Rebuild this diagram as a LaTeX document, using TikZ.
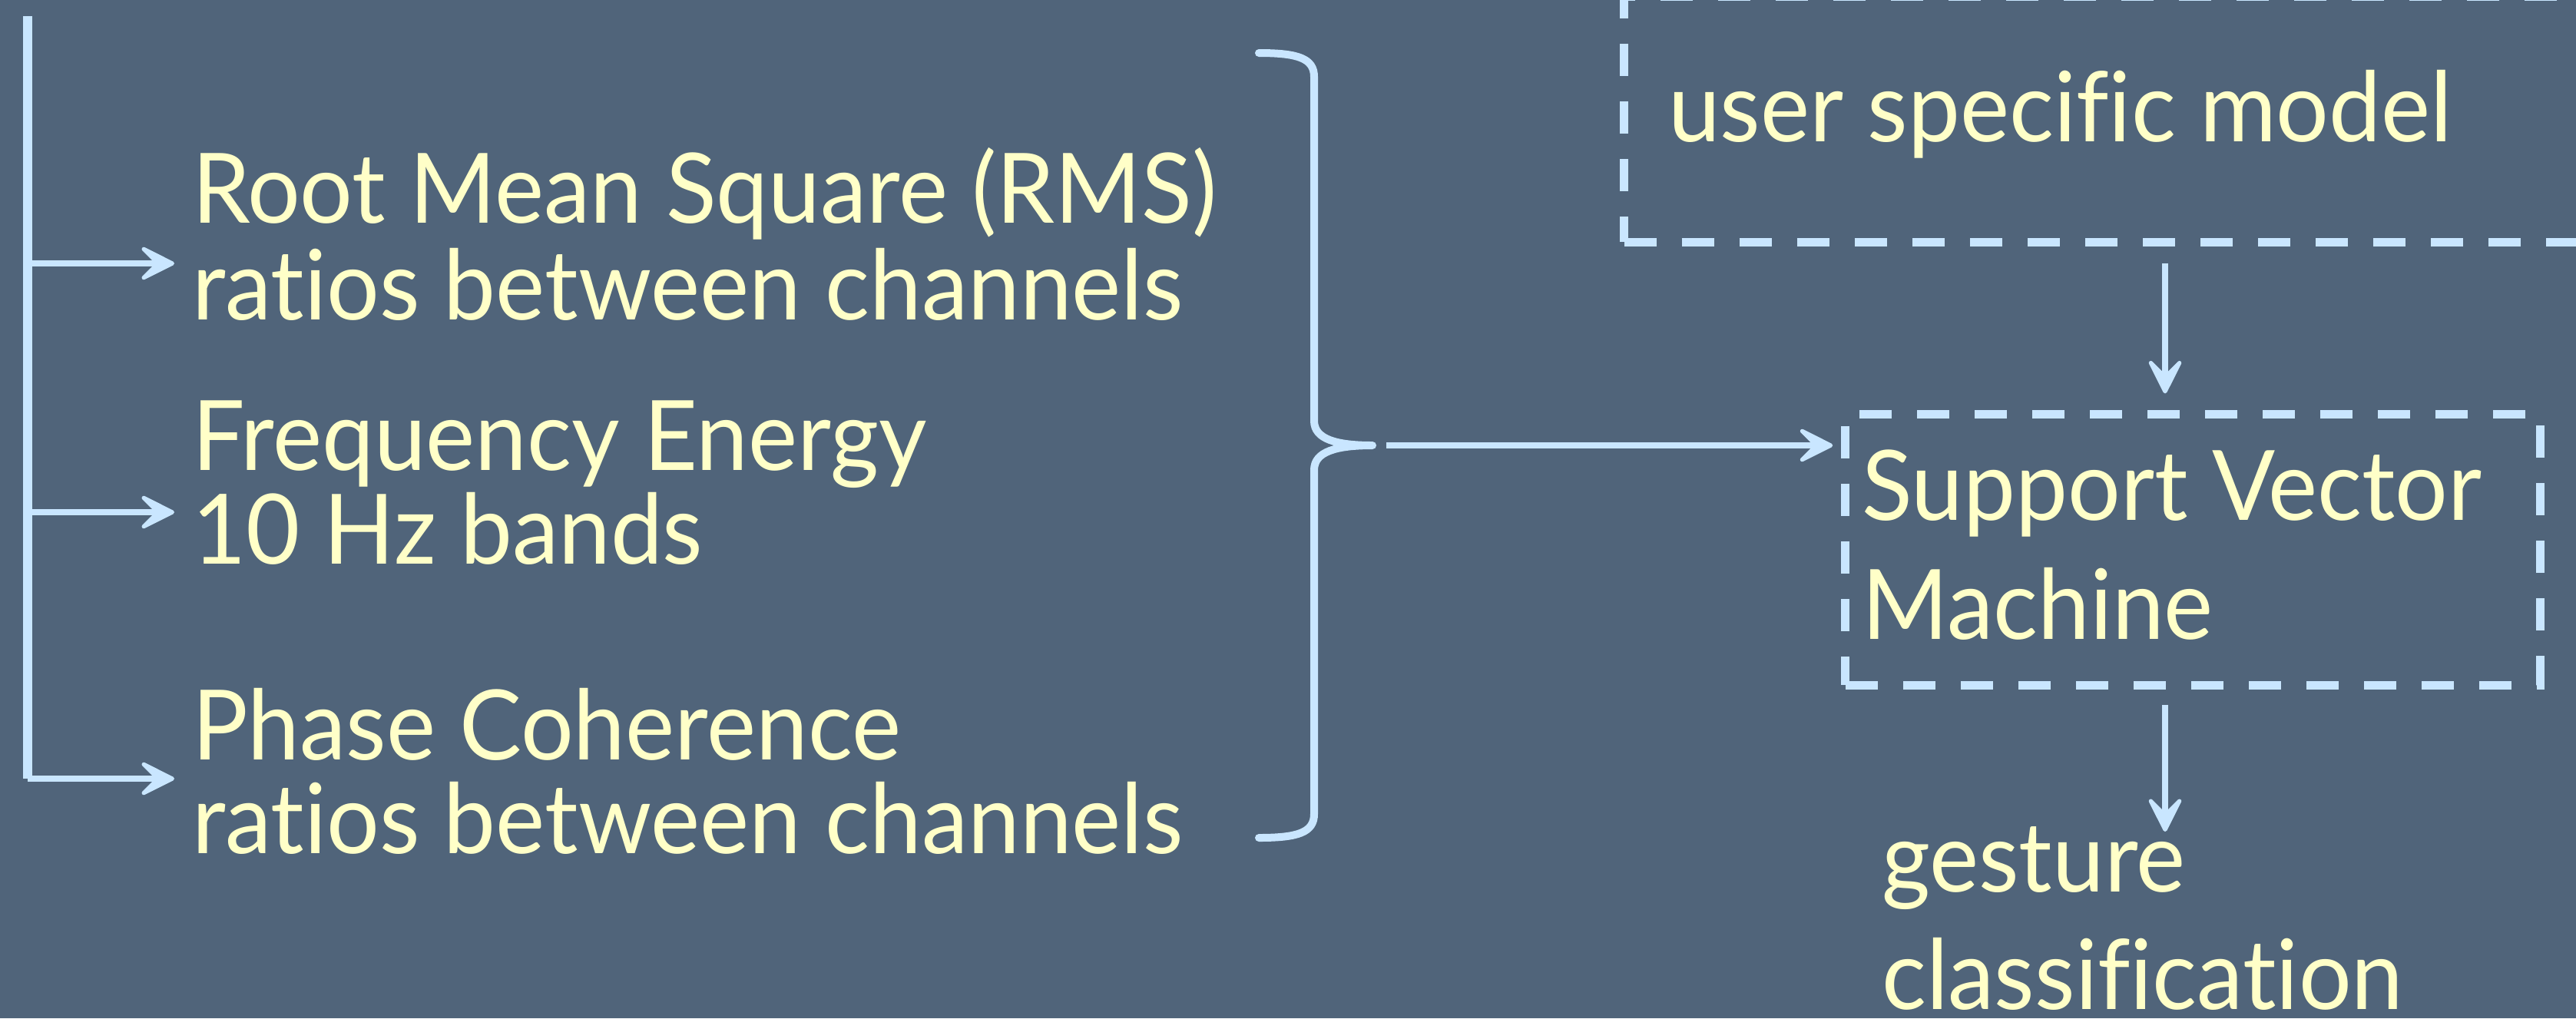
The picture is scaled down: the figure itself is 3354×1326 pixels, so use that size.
\documentclass[tikz,border=0pt]{standalone}
\usepackage{fontspec}
\setmainfont{Lato}[Ligatures=NoCommon]
\usepackage{graphicx}
\usetikzlibrary{arrows.meta}
\definecolor{bgc}{RGB}{80,100,122}
\definecolor{txtc}{RGB}{255,255,200}
\definecolor{lnc}{RGB}{201,230,255}
\newsavebox\measbox
\newdimen\measwd
\newcommand\gsfont{\fontsize{36}{36}\selectfont}
\newcommand\gtwo[3]{\vtop{\baselineskip=#1\relax\hbox{#2}\hbox{#3}}}
\newcommand\gtext[1]{\scalebox{\sx}[1]{\gsfont #1}}
\tikzset{
  txt/.style={text=txtc, anchor=base west, inner sep=0pt, outer sep=0pt},
  bus/.style={draw=lnc, line width=0.12cm},
  conn/.style={draw=lnc, line width=0.085cm,
    -{Stealth[length=16pt,width=16pt,inset=8pt,line width=1.5pt,round]}},
  bracestyle/.style={draw=lnc, line width=0.10cm, line cap=round, line join=round},
  dbox/.style={draw=lnc, line width=0.11cm, dash pattern=on 0.42cm off 0.33cm, inner sep=0pt, outer sep=0pt}
}
\begin{document}
\sbox\measbox{\gsfont ratios between channels}%
\global\measwd=\wd\measbox
\pgfmathsetmacro\sx{12.9cm/\measwd}%
\global\let\sx\sx
\begin{tikzpicture}[x=0.01cm,y=-0.01cm]
\fill[bgc] (0,0) rectangle (3354,1326);
\useasboundingbox (0,0) rectangle (3354,1326);
\clip (0,0) rectangle (3354,1326);

% left bus and feature arrows
\coordinate (bt) at (36,21);
\coordinate (bb) at (36,1014);
\draw[bus] (bt) -- (bb);
\node[txt] (rms) at (250,290) {\gtext{\gtwo{1.26cm}{Root Mean Square (RMS)}{ratios between channels}}};
\node[txt] (freq) at (250,612) {\gtext{\gtwo{1.22cm}{Frequency Energy}{10 Hz bands}}};
\node[txt] (phase) at (250,989) {\gtext{\gtwo{1.22cm}{Phase Coherence}{ratios between channels}}};
\coordinate (a1) at (227,343);
\coordinate (a2) at (227,667);
\coordinate (a3) at (227,1014);
\draw[conn] (bt |- a1) -- (a1);
\draw[conn] (bt |- a2) -- (a2);
\draw[conn] (bb) -- (a3);

% brace
\coordinate (btip) at (1787,580);
\draw[bracestyle] (1639,69) .. controls (1690,69) and (1711,76) .. (1711,100)
  -- (1711,548) .. controls (1711,572) and (1740,580) .. (btip)
  .. controls (1740,580) and (1711,588) .. (1711,612)
  -- (1711,1060) .. controls (1711,1084) and (1690,1091) .. (1639,1091);

% boxes
\node[dbox, minimum width=13.85cm, minimum height=3.19cm] (umodel) at (2807.5,155.5) {};
\node[txt] (umtext) at (2172,184) {\gtext{user specific model}};
\node[dbox, minimum width=9.04cm, minimum height=3.52cm] (svm) at (2855,716) {};
\node[txt] (svmtext) at (2424,677) {\gtext{\gtwo{1.55cm}{Support Vector}{Machine}}};
\node[txt] (gesture) at (2450,1161) {\gtext{\gtwo{1.53cm}{gesture}{classification}}};

% connectors
\coordinate (bstart) at (1805,580);
\draw[conn, shorten >=0.165cm] (bstart) -- (svm.west |- bstart);
\coordinate (ax) at (2819,0);
\draw[conn, shorten <=0.275cm, shorten >=0.275cm] (umodel.south -| ax) -- (svm.north -| ax);
\coordinate (gtip) at (2819,1083);
\draw[conn, shorten <=0.255cm] (svm.south -| ax) -- (gtip);
\end{tikzpicture}
\end{document}
